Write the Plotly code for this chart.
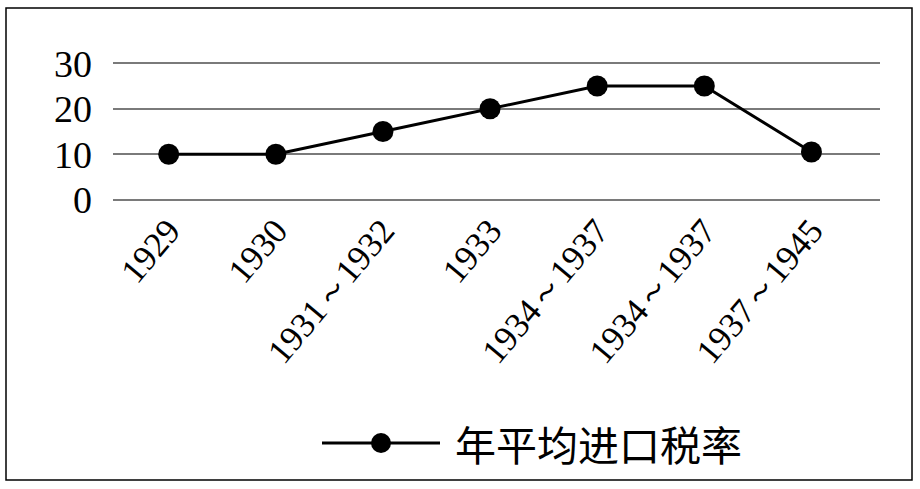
import plotly.graph_objects as go

# data
periods = ["1929", "1930", "1931～1932", "1933", "1934～1937", "1934～1937", "1937～1945"]
tax_rate = [10, 10, 15, 20, 25, 25, 10.5]
y_ticks = [0, 10, 20, 30]
legend_name = "年平均进口税率"

# canvas / plot-area in pixels
W, H = 920, 489
L, R, T, B = 113, 880, 61, 202


def px_x(x):
    return (x - L) / (R - L)


def px_y(y):
    return (B - y) / (B - T)


idx = list(range(len(periods)))

fig = go.Figure()
fig.add_trace(go.Scatter(
    x=idx, y=tax_rate, mode="lines+markers", name=legend_name,
    line=dict(color="black", width=3),
    marker=dict(color="black", size=21),
    showlegend=False,
))

serif = "Liberation Serif, Times New Roman, serif"

fig.update_layout(
    width=W, height=H,
    margin=dict(l=L, r=W - R, t=T, b=H - B),
    paper_bgcolor="white", plot_bgcolor="white",
    xaxis=dict(
        range=[-0.52, 6.64],
        tickmode="array", tickvals=idx, ticktext=periods,
        tickangle=-50, showgrid=False, zeroline=False, showline=False,
        ticks="", tickfont=dict(family=serif, size=35, color="black"),
    ),
    yaxis=dict(
        range=[-0.5, 30.5],
        tickmode="array", tickvals=y_ticks,
        showgrid=True, gridcolor="#7a7a7a", gridwidth=2,
        zeroline=False, showline=False, ticks="",
        ticklabelstandoff=20,
        tickfont=dict(family=serif, size=38, color="black"),
    ),
)

# hand-made legend (longer line than plotly's own legend symbol)
ly = px_y(443)
fig.add_shape(type="line", xref="paper", yref="paper",
              x0=px_x(322), x1=px_x(440), y0=ly, y1=ly,
              line=dict(color="black", width=3))
fig.add_shape(type="circle", xref="paper", yref="paper",
              xsizemode="pixel", ysizemode="pixel",
              xanchor=px_x(381), yanchor=ly,
              x0=-10, x1=10, y0=-10, y1=10,
              fillcolor="black", line=dict(color="black", width=0))
fig.add_annotation(xref="paper", yref="paper", x=px_x(453), y=ly,
                   xanchor="left", yanchor="middle", showarrow=False,
                   text=legend_name,
                   font=dict(family="Noto Sans CJK SC", size=41, color="black"))

# outer frame
fig.add_shape(type="rect", xref="paper", yref="paper",
              x0=px_x(6), x1=px_x(912), y0=px_y(480), y1=px_y(8),
              line=dict(color="black", width=1.5), layer="below")

fig.write_html("out.html", config={"displayModeBar": False},
               post_script="document.body.style.margin='0';")
